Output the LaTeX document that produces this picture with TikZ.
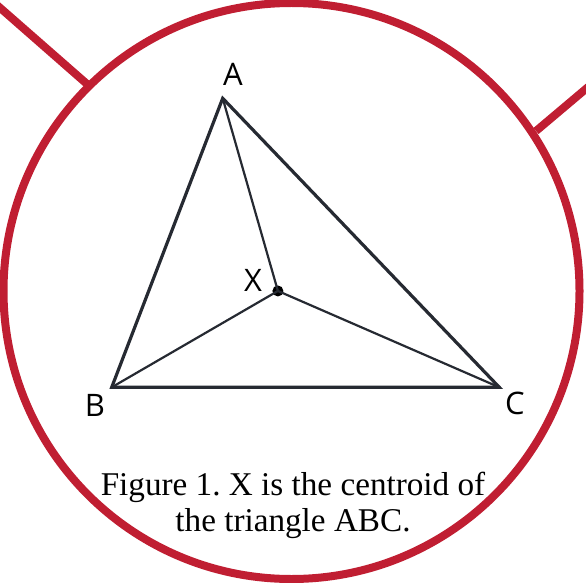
\documentclass[tikz,border=0pt]{standalone}
\usepackage{fontspec}
\setmainfont{Liberation Serif}
\newfontfamily\labelfont{Open Sans}
\usetikzlibrary{calc}
\definecolor{ringred}{RGB}{192,30,50}
\definecolor{inkdark}{RGB}{38,42,50}
\frenchspacing
\tikzset{
  ring/.style={draw=ringred,line width=8pt},
  side/.style={draw=inkdark,line width=3.2pt,line join=miter},
  median/.style={draw=inkdark,line width=2.2pt},
  vlabel/.style={font=\labelfont\fontsize{31}{31}\selectfont,text=black,inner sep=0pt},
  caption/.style={font=\fontsize{33.2}{36}\selectfont,align=center,inner sep=0pt},
}

\begin{document}
\begin{tikzpicture}[x=1pt,y=-1pt]

  \useasboundingbox (0,0) rectangle (586,583);
  \clip (0,0) rectangle (586,583);

  \coordinate (ctr) at (291.5,291);
  \draw[ring] (ctr) circle[radius=288];

  \coordinate (tlin)  at (87,84);
  \coordinate (tlout) at (-10,-1);
  \coordinate (trin)  at (536,131);
  \coordinate (trout) at (600,77);
  \draw[ring] (tlin) -- (tlout);
  \draw[ring] (trin) -- (trout);

  \coordinate (A) at (222.7,98.3);
  \coordinate (B) at (111.7,387.3);
  \coordinate (C) at (499.3,387.3);
  \node[circle,fill=black,inner sep=0pt,minimum size=11pt]
        (X) at ($(A)!2/3!($(B)!0.5!(C)$)$) {};

  \draw[median] (A) -- (X.center);
  \draw[median] (B) -- (X.center);
  \draw[median] (C) -- (X.center);
  \draw[side] (A) -- (B) -- (C) -- cycle;

  \node[vlabel] (labA) at (233,74)  {A};
  \node[vlabel] (labB) at (95,405)  {B};
  \node[vlabel] (labC) at (515,403) {C};
  \node[vlabel] (labX) at (253,280) {X};

  \node[caption,anchor=north] (cap) at (293,472)
        {Figure 1. X is the centroid of\\the triangle ABC.};

\end{tikzpicture}
\end{document}
